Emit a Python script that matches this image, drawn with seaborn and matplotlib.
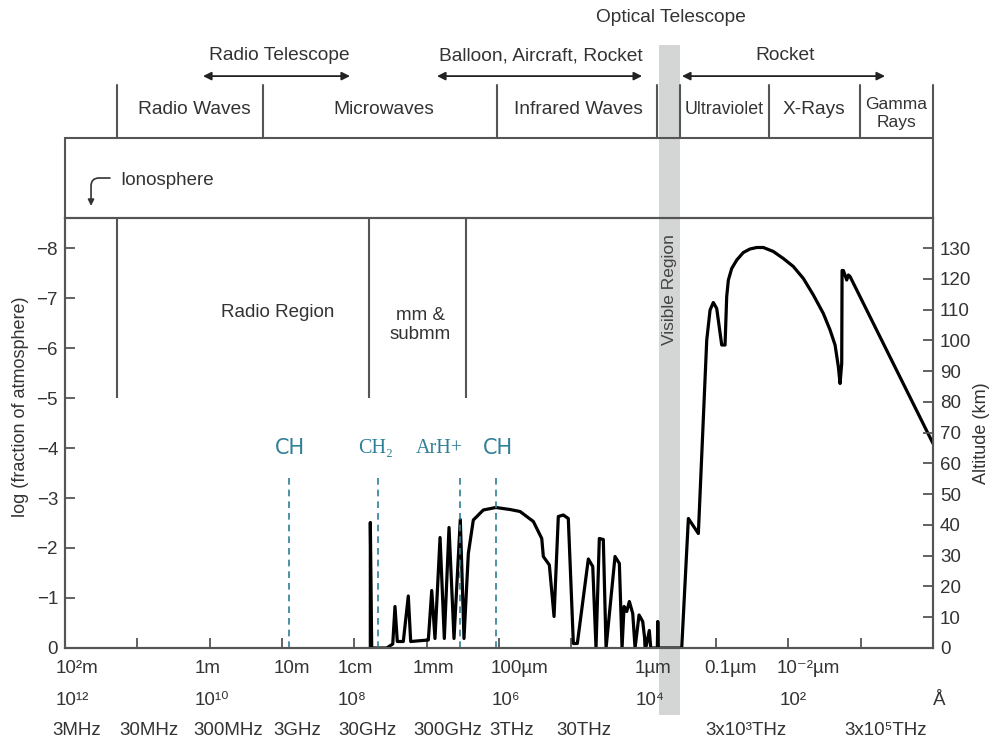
import numpy as np
import pandas as pd
import matplotlib
matplotlib.use("Agg")
import matplotlib.pyplot as plt
import seaborn as sns
from matplotlib.transforms import blended_transform_factory

# ---------------- data ----------------
# absorption curve: x = log10(wavelength / m), y = log10(fraction of atmosphere)
curve_log_wavelength = [
    -2.221, -2.221, -2.240, -2.448, -2.531, -2.562, -2.594, -2.677, -2.746, -2.779,
    -3.023, -3.070, -3.115, -3.185, -3.244, -3.309, -3.378, -3.465, -3.516, -3.576,
    -3.645, -3.783, -3.955, -4.152, -4.291, -4.475, -4.591, -4.613, -4.696, -4.761,
    -4.820, -4.889, -4.958, -5.028, -5.083, -5.235, -5.296, -5.341, -5.387, -5.442,
    -5.480, -5.604, -5.664, -5.701, -5.729, -5.766, -5.802, -5.849, -5.881, -5.936,
    -5.987, -6.029, -6.078, -6.098, -6.189, -6.195, -6.203, -6.526, -6.618, -6.756,
    -6.872, -6.918, -6.963, -7.010, -7.079, -7.125, -7.148, -7.171, -7.217, -7.287,
    -7.378, -7.470, -7.563, -7.655, -7.793, -7.931, -8.069, -8.208, -8.346, -8.484,
    -8.577, -8.646, -8.691, -8.715, -8.738, -8.743, -8.761, -8.807, -8.830, -8.853,
    -8.877, -10.0,
]
curve_log_fraction = [
    0.0, -2.51, 0.0, 0.0, -0.08, -0.83, -0.13, -0.13, -1.04, -0.13,
    -0.16, -1.15, -0.19, -2.21, -0.19, -2.41, -0.19, -2.57, -0.19, -1.89,
    -2.56, -2.76, -2.81, -2.77, -2.73, -2.53, -2.19, -1.83, -1.66, -0.63,
    -2.63, -2.66, -2.59, -0.09, -0.09, -1.78, -1.63, 0.0, -2.19, -2.17,
    0.0, -1.83, -1.69, 0.0, -0.83, -0.73, -0.93, -0.69, 0.0, -0.66,
    -0.53, 0.0, -0.35, 0.0, 0.0, -0.53, 0.0, 0.0, -2.59, -2.29,
    -6.16, -6.76, -6.91, -6.79, -6.06, -6.06, -7.03, -7.36, -7.59, -7.76,
    -7.91, -7.98, -8.01, -8.01, -7.93, -7.79, -7.63, -7.39, -7.06, -6.69,
    -6.36, -6.06, -5.63, -5.29, -5.69, -7.55, -7.55, -7.36, -7.46, -7.43,
    -7.36, -4.09,
]

# molecular lines (log10 wavelength / m)
molecule_names = ["CH", "CH\u2082", "ArH+", "CH"]
molecule_log_wavelength = [-1.097, -2.327, -3.461, -3.952]
molecule_label_x = [-1.111, -2.300, -3.171, -3.980]
molecule_serif = [False, True, True, False]
molecule_line_top = -3.46

# spectral bands (top strip)
band_names = ["Radio Waves", "Microwaves", "Infrared Waves", "Ultraviolet", "X-Rays", "Gamma\nRays"]
band_label_x = [0.217, -2.410, -5.093, -7.111, -8.355, -9.489]
band_edges = [1.281, -0.737, -3.973, -6.185, -6.503, -7.733, -8.991]

# observing platforms
platform_names = ["Radio Telescope", "Balloon, Aircraft, Rocket", "Rocket"]
platform_label_x = [-0.959, -4.581, -7.954]
platform_start = [0.092, -3.143, -6.530]
platform_end = [-1.940, -5.978, -9.337]

# regions in main panel
region_dividers = [1.281, -2.203, -3.544]
region_names = ["Radio Region", "mm &\nsubmm"]
region_label_x = [-0.945, -2.908]
region_label_y = [-6.72, -6.46]

visible_band = (-6.212, -6.503)

# bottom label rows
wavelength_labels = ["10\u00b2m", "1m", "10m", "1cm", "1mm", "100\u00b5m", "1\u00b5m", "0.1\u00b5m", "10\u207b\u00b2\u00b5m"]
wavelength_label_x = [1.834, 0.023, -1.140, -2.009, -3.088, -4.280, -6.130, -7.194, -8.272]
angstrom_labels = ["10\u00b9\u00b2", "10\u00b9\u2070", "10\u2078", "10\u2076", "10\u2074", "10\u00b2", "\u00c5"]
angstrom_label_x = [1.900, -0.030, -1.970, -4.100, -6.090, -8.070, -10.080]
frequency_labels = ["3MHz", "30MHz", "300MHz", "3GHz", "30GHz", "300GHz", "3THz", "30THz", "3x10\u00b3THz", "3x10\u2075THz"]
frequency_label_x = [1.834, 0.839, -0.254, -1.208, -2.175, -3.295, -4.180, -5.175, -7.415, -9.351]

left_ticks = list(range(0, -9, -1))
altitude_ticks = list(range(0, 131, 10))

# ---------------- style ----------------
sns.set_theme(style="ticks")
plt.rcParams["font.family"] = ["Liberation Sans", "DejaVu Sans"]
TXT = "#333333"
LN = "#555555"
TEAL = "#2f7f97"
SERIF = ["Liberation Serif", "DejaVu Serif"]

fig = plt.figure(figsize=(9.93, 7.40), dpi=100)
fig.patch.set_facecolor("white")
ax = fig.add_axes([65 / 993, 1 - 648 / 740, 868 / 993, 430 / 740])
ax.set_facecolor("white")
ax.set_xlim(2, -10)
ax.set_ylim(0, -8.6)

trans = blended_transform_factory(ax.transData, ax.transAxes)

# visible region
ax.axvspan(visible_band[0], visible_band[1], ymin=-0.156, ymax=1.402,
           color="#d4d5d5", lw=0, zorder=0.5, clip_on=False)
ax.text(np.mean(visible_band), 0.833, "Visible Region", rotation=90, transform=trans,
        ha="center", va="center", fontsize=12.5, color="#444444", zorder=3)

# curve
df = pd.DataFrame({"wl": curve_log_wavelength, "lf": curve_log_fraction})
sns.lineplot(data=df, x="wl", y="lf", sort=False, estimator=None, color="black",
             lw=2.3, ax=ax, zorder=4, solid_joinstyle="round")
ax.set_xlabel("")

# molecule lines
ax.vlines(molecule_log_wavelength, 0, molecule_line_top, colors=TEAL, lw=1.2,
          linestyles=(0, (4, 3)), zorder=5)
for name, x, serif in zip(molecule_names, molecule_label_x, molecule_serif):
    if serif:
        ax.text(x, -3.91, name, ha="center", va="baseline", fontsize=14.5,
                color=TEAL, family=SERIF)
    else:
        ax.text(x, -3.88, name, ha="center", va="baseline", fontsize=15,
                color=TEAL, family=["DejaVu Sans"])

# region dividers
ax.vlines(region_dividers, -5, -8.6, colors=LN, lw=1.5, zorder=2)
for name, x, y in zip(region_names, region_label_x, region_label_y):
    ax.text(x, y, name, ha="center", va="center", fontsize=13.5, color=TXT,
            multialignment="center", linespacing=1.15)

# axes styling
for sp in ax.spines.values():
    sp.set_color(LN)
    sp.set_linewidth(1.5)
ax.set_xticks(np.arange(1, -9.5, -1))
ax.tick_params(axis="x", direction="in", length=7, width=1.3, color=LN, labelbottom=False)
ax.set_yticks(left_ticks)
ax.tick_params(axis="y", direction="in", length=7, width=1.3, color=LN,
               labelsize=13.5, labelcolor=TXT, pad=5)
ax.set_ylabel("log (fraction of atmosphere)", fontsize=13, color=TXT)
ax.yaxis.set_label_coords(-0.042, 0.56)

ax2 = ax.twinx()
ax2.set_ylim(0, 8.6 * 130 / 8)
ax2.set_yticks(altitude_ticks)
ax2.tick_params(axis="y", direction="in", length=7, width=1.3, color=LN,
                labelsize=13.5, labelcolor=TXT, pad=5)
for sp in ax2.spines.values():
    sp.set_color(LN)
    sp.set_linewidth(1.5)
ax2.set_ylabel("Altitude (km)", fontsize=13, color=TXT, rotation=90)
ax2.yaxis.set_label_coords(1.046, 0.50)

# upper boxes
y_box = 1.186
y_band = 1.309
line_kw = dict(transform=trans, clip_on=False, color=LN, lw=1.5, zorder=2)
ax.plot([2, -10], [y_box, y_box], **line_kw)
ax.plot([2, 2], [1.0, y_box], **line_kw)
ax.plot([-10, -10], [1.0, y_band], **line_kw)
for e in band_edges:
    ax.plot([e, e], [y_box, y_band], **line_kw)
for name, x in zip(band_names, band_label_x):
    if "\n" in name:
        ax.text(x, 1.243, name, transform=trans, ha="center", va="center",
                fontsize=12.5, color=TXT, linespacing=1.3)
    elif name == "Ultraviolet":
        ax.text(x, 1.242, name, transform=trans, ha="center", va="baseline",
                fontsize=12.8, color=TXT)
    else:
        ax.text(x, 1.242, name, transform=trans, ha="center", va="baseline",
                fontsize=13.8, color=TXT)

# ionosphere
ax.text(1.240, 1.0767, "Ionosphere", transform=trans, ha="left", va="baseline",
        fontsize=13.5, color=TXT)
ax.annotate("", xy=(1.64, 1.028), xycoords=trans, xytext=(1.378, 1.093), textcoords=trans,
            arrowprops=dict(arrowstyle="-|>", connectionstyle="angle,angleA=0,angleB=90,rad=8",
                            color=TXT, lw=1.2, mutation_scale=9, shrinkA=0, shrinkB=0))

# platforms
for name, x, x0, x1 in zip(platform_names, platform_label_x, platform_start, platform_end):
    ax.text(x, 1.367, name, transform=trans, ha="center", va="baseline",
            fontsize=13.8, color=TXT)
    ax.annotate("", xy=(x1, 1.330), xycoords=trans, xytext=(x0, 1.330), textcoords=trans,
                arrowprops=dict(arrowstyle="<|-|>", color="#222222", lw=1.3,
                                mutation_scale=12, shrinkA=0, shrinkB=0))
ax.text(np.mean(visible_band) - 0.02, 1.4565, "Optical Telescope", transform=trans,
        ha="center", va="baseline", fontsize=13.8, color=TXT)

# bottom label rows
for lab, x in zip(wavelength_labels, wavelength_label_x):
    ax.text(x, -0.058, lab, transform=trans, ha="center", va="baseline", fontsize=13.5, color=TXT)
for lab, x in zip(angstrom_labels, angstrom_label_x):
    ax.text(x, -0.1326, lab, transform=trans, ha="center", va="baseline", fontsize=13.5, color=TXT)
for lab, x in zip(frequency_labels, frequency_label_x):
    ax.text(x, -0.2023, lab, transform=trans, ha="center", va="baseline", fontsize=13.5, color=TXT)

fig.savefig("out.png", dpi=100, facecolor="white")
